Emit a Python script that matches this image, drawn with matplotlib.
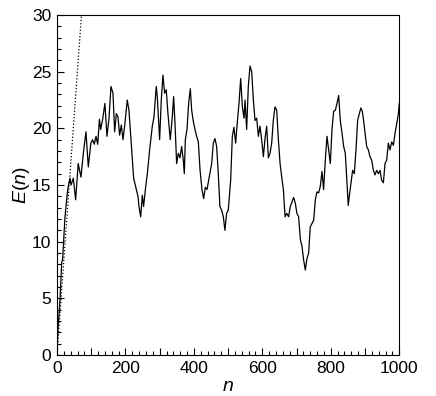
import matplotlib
matplotlib.use("Agg")
import matplotlib.pyplot as plt
from matplotlib.ticker import MultipleLocator, FuncFormatter

plt.rcParams['font.family'] = ['Liberation Sans', 'DejaVu Sans']
plt.rcParams['mathtext.fontset'] = 'custom'
plt.rcParams['mathtext.it'] = 'Liberation Sans:italic'
plt.rcParams['mathtext.rm'] = 'Liberation Sans'

# values
n_vals = [0, 2, 8.8, 13.6, 16.5, 23.4, 30.2, 33, 38, 41, 47.7, 54.5, 62, 70, 77,
          84.7, 91.5, 99, 104, 109, 114, 119, 124, 127.6, 133.4, 140, 146, 152,
          157.7, 163.6, 168.5, 173.4, 178.3, 183, 188, 192.8, 197.7, 205.3, 210.3,
          217, 224, 231.8, 236.6, 239.6, 244.5, 249.3, 253, 259, 264, 270.7, 278.5,
          283.4, 290, 293, 299.9, 304.7, 309.6, 314.5, 319.3, 324.2, 331, 336.9,
          340.8, 344.7, 349.6, 354.5, 359.4, 364.2, 369, 372, 375, 379.8, 384.7,
          389.6, 393.5, 398.4, 403.2, 408, 413, 418, 423.6, 428.5, 433.4, 438.3,
          443, 448, 452, 456.7, 461.6, 466.5, 471.3, 476, 481, 486, 490.7, 495.6,
          500.5, 505.3, 507.4, 512.3, 517, 522, 527, 531.8, 536.7, 541.6, 546.5,
          549.4, 554.2, 559, 564, 568.9, 573.8, 578.6, 583.5, 588.4, 593.2, 598,
          603, 607.8, 612.7, 617.6, 622.5, 627.3, 632, 637, 642, 646.9, 651.8,
          656.6, 661.5, 666.4, 671.3, 676.8, 681.7, 686.6, 691.4, 696.3, 701, 706,
          711, 715.8, 720.6, 725.5, 730.4, 735.3, 740, 745, 750, 754.8, 759.6,
          764.5, 769.4, 774.3, 779, 784, 788.9, 793.7, 798.6, 803.5, 808.3, 813.2,
          818, 823, 827.8, 832.7, 837.6, 842.4, 846.3, 851, 854, 859, 863.8, 868.7,
          873.6, 878.4, 883.3, 888, 892, 895, 900, 904.8, 909.7, 914.6, 919.5,
          924.3, 929.2, 934, 939, 943.8, 948.7, 953.6, 958.5, 963.3, 968.2, 973,
          978, 983, 987.8, 992.6, 997.5, 1000]
E_vals = [0, 1.9, 4.85, 8.1, 8.5, 12.2, 14.3, 14.9, 15.6, 15.0, 15.6, 13.7, 16.9,
          15.7, 17.8, 19.7, 16.6, 18.7, 19.0, 18.6, 19.3, 18.6, 20.8, 19.9, 20.8,
          22.2, 19.3, 20.9, 23.7, 23.1, 19.7, 21.3, 21.0, 19.4, 20.3, 19.0, 20.2,
          22.5, 21.6, 18.7, 15.6, 14.6, 14.0, 13.1, 12.2, 14.1, 13.1, 14.8, 16.0,
          18.1, 20.2, 21.0, 23.7, 22.8, 19.0, 22.5, 24.7, 23.1, 23.4, 21.3, 19.0,
          21.0, 22.8, 20.5, 16.9, 17.8, 17.4, 18.4, 17.2, 16.0, 19.0, 19.9, 22.2,
          23.5, 21.6, 20.6, 19.9, 19.3, 18.8, 16.3, 14.6, 13.8, 14.8, 14.6, 15.4,
          16.3, 16.9, 18.7, 19.1, 18.4, 16.0, 13.1, 12.8, 12.2, 11.0, 12.5, 12.8,
          14.6, 15.4, 19.3, 20.1, 18.7, 20.6, 22.2, 24.4, 21.9, 20.9, 22.5, 19.9,
          23.7, 25.5, 25.0, 22.5, 20.7, 20.9, 19.3, 20.2, 19.0, 17.5, 19.1, 20.2,
          17.4, 17.8, 18.7, 20.7, 21.9, 21.6, 19.0, 16.9, 15.7, 14.6, 12.2, 12.5,
          12.2, 13.1, 13.5, 13.9, 13.4, 12.5, 12.2, 10.2, 9.6, 8.4, 7.5, 8.5, 9.0,
          11.3, 11.6, 11.9, 13.7, 14.4, 14.3, 14.9, 16.2, 14.6, 17.2, 19.3, 18.1,
          16.9, 19.9, 21.5, 21.6, 22.2, 22.9, 20.7, 19.6, 18.4, 17.8, 15.7, 13.2,
          14.0, 15.2, 16.3, 16.0, 18.1, 20.7, 21.3, 21.8, 21.5, 20.9, 19.6, 18.4,
          18.1, 17.5, 17.2, 16.3, 15.9, 16.3, 16.0, 16.3, 15.4, 15.2, 16.9, 17.2,
          18.7, 18.1, 18.8, 18.5, 19.6, 20.4, 21.3, 22.2]

# dotted reference line
ref_n = [0, 71.5]
ref_E = [0, 30]

fig = plt.figure(figsize=(4.36, 3.96), dpi=100)
ax = fig.add_axes([0.1307, 0.1035, 0.785, 0.8585])

ax.plot(n_vals, E_vals, color='black', lw=0.9)
ax.plot(ref_n, ref_E, color='black', lw=0.9, linestyle=(0, (1, 1.6)))

ax.set_xlim(0, 1000)
ax.set_ylim(0, 30)

ax.xaxis.set_major_locator(MultipleLocator(100))
ax.xaxis.set_minor_locator(MultipleLocator(20))
ax.xaxis.set_major_formatter(FuncFormatter(lambda v, p: '%d' % v if v % 200 == 0 else ''))
ax.yaxis.set_major_locator(MultipleLocator(5))
ax.yaxis.set_minor_locator(MultipleLocator(1))

ax.tick_params(which='both', direction='in', top=False, right=False, labelsize=12.5, width=0.8)
ax.tick_params(which='major', length=5, pad=4)
ax.tick_params(which='minor', length=3)

for s in ax.spines.values():
    s.set_linewidth(0.8)

ax.set_xlabel('$n$', fontsize=14, labelpad=2)
ax.set_ylabel('$E(n)$', fontsize=14, labelpad=0)

fig.savefig('out.png', dpi=100)
